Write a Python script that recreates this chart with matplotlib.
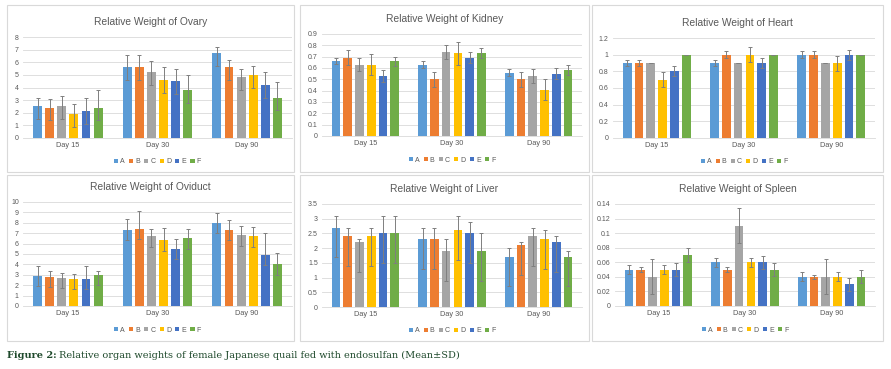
import numpy as np
import matplotlib
matplotlib.use("Agg")
import matplotlib.pyplot as plt
from matplotlib.patches import Rectangle, Patch

# groups (rows) x days (columns)
days = ["Day 15", "Day 30", "Day 90"]
groups = ["A", "B", "C", "D", "E", "F"]
colors = ["#5B9BD5", "#ED7D31", "#A5A5A5", "#FFC000", "#4472C4", "#70AD47"]

ovary_mean = [[2.5, 5.6, 6.7], [2.4, 5.6, 5.6], [2.5, 5.2, 4.8],
              [1.9, 4.6, 5.0], [2.1, 4.5, 4.2], [2.4, 3.8, 3.2]]
ovary_up = [[0.7, 1.0, 0.5], [0.7, 1.0, 0.6], [0.8, 0.9, 0.7],
            [0.8, 1.0, 0.7], [1.1, 1.0, 1.0], [1.4, 1.2, 1.2]]
ovary_lo = [[1.0] * 3] * 6

kidney_mean = [[0.66, 0.63, 0.56], [0.69, 0.50, 0.50], [0.63, 0.74, 0.53],
               [0.63, 0.73, 0.41], [0.53, 0.69, 0.55], [0.66, 0.73, 0.58]]
kidney_sd = [[0.025, 0.03, 0.03], [0.065, 0.065, 0.065], [0.06, 0.06, 0.06],
             [0.09, 0.10, 0.095], [0.05, 0.05, 0.05], [0.04, 0.045, 0.045]]

heart_mean = [[0.9, 0.9, 1.0], [0.9, 1.0, 1.0], [0.9, 0.9, 0.9],
              [0.7, 1.0, 0.9], [0.8, 0.9, 1.0], [1.0, 1.0, 1.0]]
heart_sd = [[0.04] * 3, [0.04] * 3, [0.005] * 3, [0.09] * 3, [0.06] * 3, [0.0] * 3]

oviduct_mean = [[2.9, 7.3, 8.0], [2.8, 7.4, 7.3], [2.7, 6.7, 6.8],
                [2.6, 6.3, 6.7], [2.6, 5.5, 4.9], [3.0, 6.5, 4.0]]
oviduct_up = [[0.9, 1.1, 0.9], [0.6, 1.7, 1.0], [0.5, 0.7, 0.9],
              [0.5, 1.2, 0.9], [1.2, 0.9, 2.1], [0.4, 0.9, 1.1]]
oviduct_lo = [[1.0] * 3] * 6

liver_mean = [[2.7, 2.3, 1.7], [2.4, 2.3, 2.1], [2.2, 1.9, 2.4],
              [2.4, 2.6, 2.3], [2.5, 2.5, 2.2], [2.5, 1.9, 1.7]]
liver_up = [[0.4, 0.4, 0.3], [0.3, 0.4, 0.1], [0.1, 0.4, 0.3],
            [0.3, 0.5, 0.3], [0.6, 0.4, 0.2], [0.6, 0.6, 0.2]]
liver_lo = [[1.0] * 3] * 6

spleen_mean = [[0.05, 0.06, 0.04], [0.05, 0.05, 0.04], [0.04, 0.11, 0.04],
               [0.05, 0.06, 0.04], [0.05, 0.06, 0.03], [0.07, 0.05, 0.04]]
spleen_sd = [[0.006] * 3, [0.003] * 3, [0.024] * 3, [0.006] * 3, [0.009] * 3, [0.009] * 3]

W, H = 891, 369
fig = plt.figure(figsize=(W / 100, H / 100), dpi=100)
fig.patch.set_facecolor("white")

FONT = "Liberation Sans"
GRAY = "#595959"


def px_axes(x0, y0, x1, y1):
    # pixel box (top-left origin) -> figure axes
    return fig.add_axes([x0 / W, 1 - y1 / H, (x1 - x0) / W, (y1 - y0) / H])


def panel(box, plot, title, mean, lo, up, ymax, ystep, fmt):
    bx0, by0, bx1, by1 = box
    fig.patches.append(Rectangle((bx0 / W, 1 - by1 / H), (bx1 - bx0) / W, (by1 - by0) / H,
                                 transform=fig.transFigure, fill=False,
                                 edgecolor="#D9D9D9", linewidth=0.8))
    ax = px_axes(*plot)
    x = np.arange(len(days))
    step, width = 0.135, 0.10
    for i, g in enumerate(groups):
        pos = x + (i - 2.5) * step
        ax.bar(pos, mean[i], width, color=colors[i], zorder=2)
        ax.errorbar(pos, mean[i], yerr=[lo[i], up[i]], fmt="none", ecolor="#7F7F7F",
                    elinewidth=0.7, capsize=1.6, capthick=0.7, zorder=3)
    ax.set_xlim(-0.5, 2.5)
    ax.set_ylim(0, ymax)
    ticks = np.arange(0, ymax + ystep / 2, ystep)
    ax.set_yticks(ticks)
    ax.set_yticklabels([fmt(t) for t in ticks], fontsize=5, color=GRAY, family=FONT)
    ax.set_xticks(x)
    ax.set_xticklabels(days, fontsize=5.3, color=GRAY, family=FONT)
    ax.tick_params(length=0, pad=3)
    ax.grid(axis="y", color="#D9D9D9", linewidth=0.6, zorder=0)
    for s in ["top", "right", "left"]:
        ax.spines[s].set_visible(False)
    ax.spines["bottom"].set_color("#D9D9D9")
    ax.spines["bottom"].set_linewidth(0.6)
    ax.set_facecolor("none")
    fig.text((bx0 + bx1) / 2 / W, 1 - (plot[1] - 15) / H, title, ha="center", va="center",
             fontsize=7.4, color=GRAY, family=FONT)
    handles = [Patch(facecolor=c, label=g) for g, c in zip(groups, colors)]
    fig.legend(handles=handles, loc="center", ncol=6, frameon=False,
               bbox_to_anchor=((plot[0] + plot[2]) / 2 / W, 1 - (plot[3] + 24) / H),
               handlelength=0.6, handleheight=0.6, handletextpad=0.3,
               columnspacing=0.6, labelcolor=GRAY, prop={"family": FONT, "size": 5})
    return ax


def dec(n):
    def f(t):
        if abs(t) < 1e-12:
            return "0"
        s = f"{t:.{n}f}"
        if "." in s:
            s = s.rstrip("0").rstrip(".")
        return s
    return f


panel((7, 5, 294, 172), (23, 37, 292, 138), "Relative Weight of Ovary",
      ovary_mean, ovary_lo, ovary_up, 8, 1, dec(0))
panel((300, 5, 589, 172), (322, 34, 582, 136), "Relative Weight of Kidney",
      kidney_mean, kidney_sd, kidney_sd, 0.9, 0.1, dec(1))
panel((592, 5, 883, 172), (613, 38, 875, 138), "Relative Weight of Heart",
      heart_mean, heart_sd, heart_sd, 1.2, 0.2, dec(1))
panel((7, 175, 294, 341), (23, 202, 292, 306), "Relative Weight of Oviduct",
      oviduct_mean, oviduct_lo, oviduct_up, 10, 1, dec(0))
panel((300, 175, 589, 341), (322, 204, 582, 307), "Relative Weight of Liver",
      liver_mean, liver_lo, liver_up, 3.5, 0.5, dec(1))
panel((592, 175, 883, 341), (615, 204, 875, 306), "Relative Weight of Spleen",
      spleen_mean, spleen_sd, spleen_sd, 0.14, 0.02, dec(2))

CAP = "#1F4A2C"
t1 = fig.text(7 / W, 1 - 355 / H, "Figure 2:", fontsize=7.0, fontweight="bold", color=CAP,
              family="DejaVu Serif", va="center", ha="left")
fig.canvas.draw()
bb = t1.get_window_extent()
fig.text((bb.x1 + 2) / W, 1 - 355 / H, "Relative organ weights of female Japanese quail fed with endosulfan (Mean\u00b1SD)",
         fontsize=7.0, color=CAP, family="DejaVu Serif", va="center", ha="left")

fig.savefig("out.png", dpi=100, facecolor="white")
